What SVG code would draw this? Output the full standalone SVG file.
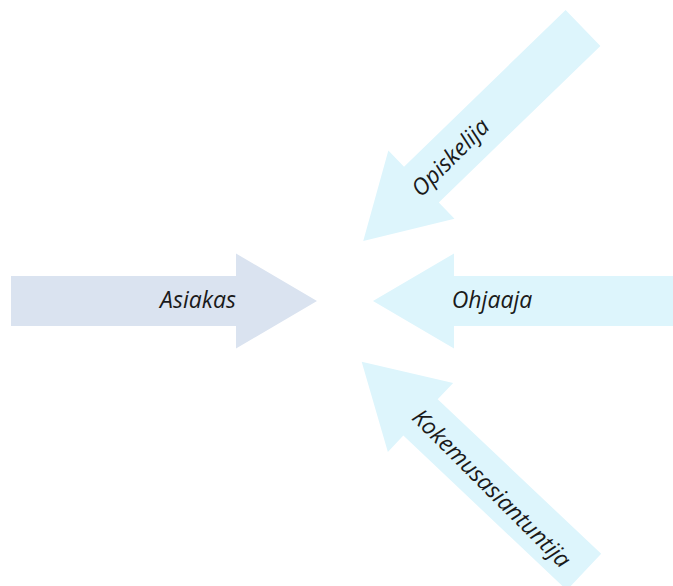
<svg xmlns="http://www.w3.org/2000/svg" width="673" height="586" viewBox="0 0 673 586">
<style>
.lbl{font-family:"Open Sans","Liberation Sans",sans-serif;font-style:italic;font-size:23px;fill:#1a1a1a;text-anchor:middle}
.a1{fill:#dae3f0}
.a2{fill:#ddf5fc}
</style>
<defs>
<path id="arr" d="M0,-25 H225 V-47.5 L306,0 L225,47.5 V25 H0 Z"/>
</defs>
<rect width="673" height="586" fill="#ffffff"/>
<g id="asiakas">
<use href="#arr" class="a1" transform="translate(11,301)"/>
<text class="lbl" x="198" y="308">Asiakas</text>
</g>
<g id="ohjaaja">
<use href="#arr" class="a2" transform="translate(679,301) rotate(180)"/>
<text class="lbl" x="492" y="308">Ohjaaja</text>
</g>
<g id="opiskelija">
<use href="#arr" class="a2" transform="translate(583,28) rotate(135.9)"/>
<text class="lbl" transform="translate(456,163) rotate(-45)" x="0" y="0">Opiskelija</text>
</g>
<g id="kokemusasiantuntija">
<use href="#arr" class="a2" transform="translate(584,572) rotate(-136.6)"/>
<text class="lbl" transform="translate(486,494) rotate(45)" x="0" y="0">Kokemusasiantuntija</text>
</g>
<g id="connectors"></g>
</svg>
